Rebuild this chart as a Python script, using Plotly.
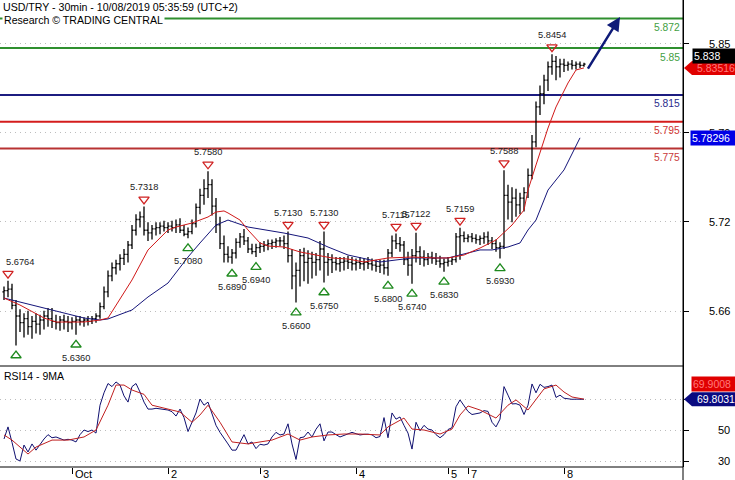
import plotly.graph_objects as go

# ---------------- data ----------------
# bar index (one bar ~ 1 hour slot of the chart), OHLC of USD/TRY
opens = [5.668,5.669,5.670,5.658,5.650,5.645,5.648,5.642,5.646,5.644,5.647,5.650,5.648,5.646,5.645,5.647,5.646,5.645,5.646,5.647,
         5.646,5.647,5.646,5.648,5.650,5.657,5.668,5.680,5.686,5.689,5.693,5.696,5.703,5.714,5.722,5.724,5.714,5.712,5.715,5.716,
         5.717,5.716,5.717,5.716,5.718,5.714,5.711,5.713,5.719,5.731,5.740,5.745,5.748,5.732,5.718,5.704,5.696,5.694,5.697,5.705,
         5.709,5.706,5.700,5.698,5.701,5.702,5.703,5.704,5.705,5.706,5.706,5.704,5.695,5.680,5.684,5.695,5.690,5.693,5.690,5.692,
         5.700,5.690,5.692,5.690,5.689,5.690,5.691,5.690,5.689,5.690,5.689,5.690,5.689,5.688,5.687,5.688,5.686,5.697,5.706,5.704,
         5.703,5.692,5.688,5.695,5.698,5.694,5.692,5.694,5.693,5.691,5.689,5.690,5.691,5.692,5.709,5.710,5.708,5.709,5.708,5.707,
         5.708,5.709,5.706,5.704,5.701,5.702,5.740,5.735,5.738,5.733,5.738,5.742,5.755,5.780,5.806,5.816,5.826,5.836,5.840,5.836,
         5.838,5.837,5.838,5.837,5.838,5.837]
highs = [5.672,5.6764,5.674,5.662,5.655,5.652,5.654,5.650,5.652,5.651,5.654,5.656,5.656,5.651,5.650,5.651,5.650,5.649,5.650,5.650,
         5.649,5.650,5.650,5.652,5.660,5.672,5.684,5.690,5.692,5.696,5.700,5.706,5.718,5.726,5.728,5.7318,5.720,5.718,5.720,5.720,
         5.721,5.720,5.721,5.722,5.723,5.718,5.716,5.722,5.734,5.745,5.752,5.7580,5.752,5.738,5.724,5.710,5.702,5.700,5.708,5.712,
         5.715,5.709,5.704,5.704,5.705,5.706,5.707,5.707,5.708,5.709,5.710,5.7130,5.700,5.690,5.700,5.701,5.699,5.698,5.697,5.706,
         5.7130,5.697,5.696,5.694,5.694,5.694,5.695,5.694,5.693,5.694,5.693,5.694,5.693,5.692,5.692,5.692,5.700,5.710,5.7115,5.709,
         5.706,5.698,5.700,5.7122,5.702,5.699,5.697,5.698,5.697,5.695,5.693,5.694,5.694,5.712,5.7159,5.713,5.711,5.712,5.711,5.710,
         5.7125,5.713,5.709,5.707,5.705,5.7588,5.748,5.746,5.745,5.742,5.746,5.760,5.785,5.810,5.822,5.830,5.840,5.8454,5.844,5.842,
         5.842,5.840,5.841,5.840,5.840,5.839]
lows = [5.662,5.664,5.655,5.628,5.638,5.634,5.636,5.633,5.637,5.636,5.640,5.642,5.641,5.640,5.639,5.640,5.638,5.640,5.6360,5.643,
        5.642,5.643,5.644,5.645,5.648,5.655,5.664,5.676,5.681,5.684,5.688,5.690,5.700,5.710,5.716,5.710,5.706,5.707,5.710,5.711,
        5.713,5.712,5.713,5.712,5.712,5.7095,5.7080,5.711,5.716,5.726,5.733,5.738,5.725,5.712,5.700,5.690,5.690,5.6890,5.693,5.701,
        5.703,5.697,5.696,5.6940,5.697,5.698,5.699,5.700,5.701,5.702,5.700,5.690,5.670,5.6600,5.672,5.676,5.674,5.678,5.680,5.684,
        5.6750,5.680,5.682,5.684,5.683,5.684,5.685,5.684,5.684,5.685,5.684,5.685,5.684,5.683,5.682,5.681,5.6800,5.694,5.700,5.698,
        5.688,5.680,5.6740,5.690,5.688,5.687,5.688,5.689,5.688,5.686,5.6830,5.687,5.688,5.690,5.692,5.705,5.705,5.705,5.704,5.703,
        5.704,5.703,5.700,5.698,5.6930,5.700,5.722,5.720,5.724,5.726,5.728,5.738,5.752,5.776,5.800,5.808,5.818,5.830,5.826,5.828,
        5.832,5.833,5.834,5.834,5.835,5.836]
closes = [5.669,5.670,5.658,5.650,5.645,5.648,5.642,5.646,5.644,5.647,5.650,5.648,5.646,5.645,5.647,5.646,5.645,5.646,5.647,5.646,
          5.647,5.646,5.648,5.650,5.657,5.668,5.680,5.686,5.689,5.693,5.696,5.703,5.714,5.722,5.724,5.714,5.712,5.715,5.716,5.717,
          5.716,5.717,5.716,5.718,5.714,5.711,5.713,5.719,5.731,5.740,5.745,5.748,5.732,5.718,5.704,5.696,5.694,5.697,5.705,5.709,
          5.706,5.700,5.698,5.701,5.702,5.703,5.704,5.705,5.706,5.706,5.704,5.695,5.680,5.684,5.695,5.690,5.693,5.690,5.692,5.700,
          5.690,5.692,5.690,5.689,5.690,5.691,5.690,5.689,5.690,5.689,5.690,5.689,5.688,5.687,5.688,5.686,5.697,5.706,5.704,5.703,
          5.692,5.688,5.695,5.698,5.694,5.692,5.694,5.693,5.691,5.689,5.690,5.691,5.692,5.709,5.710,5.708,5.709,5.708,5.707,5.708,
          5.709,5.706,5.704,5.701,5.702,5.740,5.735,5.738,5.733,5.738,5.742,5.755,5.780,5.806,5.816,5.826,5.836,5.840,5.836,5.838,
          5.837,5.838,5.837,5.838,5.837,5.838]
bars = list(range(len(closes)))

# moving averages (fast = red, slow = navy), sampled at bar indices
ma_fast_bar = [0,4,10,13,20,24,26,28,30,32,36,41,43,47,51,53,55,56,59,61,64,66,70,74,78,82,86,90,96,102,108,111,115,119,123,127,130,131,133,135,136,138,141,143,145]
ma_fast = [5.6634,5.6582,5.6485,5.6455,5.6455,5.6470,5.6485,5.6582,5.6679,5.6769,5.6993,5.7142,5.7164,5.7194,5.7239,5.7276,5.7284,5.7269,5.7216,5.7142,
           5.7045,5.7022,5.7015,5.6978,5.6955,5.6933,5.6925,5.6903,5.6933,5.6940,5.6933,5.6933,5.6955,5.7007,5.7067,5.7179,5.7291,5.7440,5.7627,5.7813,
           5.7903,5.8060,5.8239,5.8336,5.83516]
ma_slow_bar = [0,12,20,24,26,32,36,41,46,49,53,56,61,70,76,81,86,94,102,111,119,122,126,129,131,133,136,140,142,144]
ma_slow = [5.6634,5.6545,5.6485,5.6470,5.6478,5.6545,5.6642,5.6746,5.6940,5.7045,5.7179,5.7216,5.7164,5.7119,5.7082,5.7015,5.6955,5.6903,5.6933,5.6933,
           5.6993,5.6993,5.7015,5.7045,5.7142,5.7216,5.7440,5.7590,5.7716,5.78296]

# RSI(14) per bar and its 9-period MA
rsi = [44.2,52,42,31.3,30,40.3,35.8,41,37,41,44.2,47,45,45.5,44.5,43.5,44,43.5,42.3,47,
       50,49,50,48,66,74,80,78,81,79,72,68,78,80,74.5,68,63.5,63.5,64,63.5,
       63,62.9,61.8,59,63.5,58,49,55,61,70,66,68,59.7,53,48.5,45,41,37,37,42,
       47,41,42.3,38,40.8,40.3,41,45.5,48.5,46.8,47.4,54,41,31,45,45.5,48.7,45.5,50.5,54,
       43,48.7,48.7,47,45.5,46.5,47.6,48.5,47.6,46.8,47.2,47.3,46.9,45,45.8,58,45,61,57,58.4,
       53,48,37.7,55,49.5,53,50.6,50,47,45,47,50.3,51.5,65,69.4,66,62,60,60.3,61,
       62.5,62,55,52,57,78,72.5,66.8,67,66,60,66,79.7,74,79.5,77.5,78,79,71,72.5,
       70.5,70,69.8,69.9,69.8,69.8031]
rsi_ma_bar = [0,2,6,8,12,16,20,23,26,28,30,32,35,37,41,44,47,49,51,54,57,61,64,67,71,74,77,81,85,89,94,96,100,102,105,109,112,114,116,119,121,123,126,128,131,133,135,138,140,142,145]
rsi_ma = [46.8,43.5,34.5,39,43.5,43.5,45.5,50,66,79,79,75.8,73,66,63.5,61.6,55,59.7,66,55,
          42.3,41,42.3,43.5,47.4,43.5,45.5,46.8,47.4,47.4,46.8,52,57.7,50.6,50,47.4,50.6,59.7,65.5,62.9,
          60.3,57.7,66,69.4,62.9,70,76.5,79,74.5,71.3,69.9008]

# swing highs / lows marked on the chart
swing_high_bar = [1,35,51,71,80,98,103,114,125,137]
swing_high = [5.6764,5.7318,5.7580,5.7130,5.7130,5.7115,5.7122,5.7159,5.7588,5.8454]
swing_low_bar = [3,18,46,57,63,73,80,96,102,110,124]
swing_low = [5.628,5.6360,5.7080,5.6890,5.6940,5.6600,5.6750,5.6800,5.6740,5.6830,5.6930]
swing_low_shown = [False,True,True,True,True,True,True,True,True,True,True]

# horizontal key levels
levels = [5.872, 5.85, 5.815, 5.795, 5.775]
level_colors = ["#2f8f2f", "#2f8f2f", "#1c1c80", "#d41c1c", "#b83232"]
level_text_colors = ["#43a043", "#43a043", "#2b2b8c", "#d03434", "#c83a3a"]

# forecast arrow target (bar, price)
arrow_target = (154, 5.8731)

# axes
price_tick_vals = [5.853, 5.7866, 5.7202, 5.6537]
price_tick_text = ["5.85", "5.79", "5.72", "5.66"]
rsi_tick_vals = [70, 50, 30]
rsi_tick_text = ["", "50", "30"]
day_bar = [17, 41, 64, 88, 111, 116, 140]
day_text = ["Oct", "2", "3", "4", "5", "7", "8"]

# ---------------- layout constants ----------------
FONT = "Liberation Sans, Arial, sans-serif"
W, H = 735, 480
ML, MR, MT, MB = 0, 52, 0, 13
plot_w = W - ML - MR
plot_h = H - MT - MB               # 467
split_px = 366
d = (plot_h - split_px) / plot_h   # RSI domain top
y_range = [5.61269, 5.88582]
rsi_range = [26.13, 91.29]
x_range = [-1, 169.75]
ppu = split_px / (y_range[1] - y_range[0])  # pixels per price unit


def bar_px(b):
    return (b - x_range[0]) / (x_range[1] - x_range[0]) * plot_w


fig = go.Figure()

fig.add_trace(go.Ohlc(
    x=bars, open=opens, high=highs, low=lows, close=closes,
    increasing=dict(line=dict(color="black", width=1.3)),
    decreasing=dict(line=dict(color="black", width=1.3)),
    tickwidth=0.4, xaxis="x", yaxis="y", hoverinfo="skip"))

fig.add_trace(go.Scatter(x=ma_slow_bar, y=ma_slow, mode="lines",
                         line=dict(color="#15157a", width=1), xaxis="x", yaxis="y", hoverinfo="skip"))
fig.add_trace(go.Scatter(x=ma_fast_bar, y=ma_fast, mode="lines",
                         line=dict(color="#d01818", width=1), xaxis="x", yaxis="y", hoverinfo="skip"))

fig.add_trace(go.Scatter(x=swing_high_bar, y=[v + 7 / ppu for v in swing_high], mode="markers",
                         marker=dict(symbol="triangle-down-open", size=9, color="#d02222", line=dict(width=1.3)),
                         xaxis="x", yaxis="y", hoverinfo="skip"))
fig.add_trace(go.Scatter(x=swing_low_bar, y=[v - 10 / ppu for v in swing_low], mode="markers",
                         marker=dict(symbol="triangle-up-open", size=9, color="#1e8a1e", line=dict(width=1.3)),
                         xaxis="x", yaxis="y", hoverinfo="skip"))

fig.add_trace(go.Scatter(x=bars, y=rsi, mode="lines", line=dict(color="#101070", width=1),
                         xaxis="x", yaxis="y2", hoverinfo="skip"))
fig.add_trace(go.Scatter(x=rsi_ma_bar, y=rsi_ma, mode="lines", line=dict(color="#c02020", width=1),
                         xaxis="x", yaxis="y2", hoverinfo="skip"))

shapes = []
for lv, c in zip(levels, level_colors):
    shapes.append(dict(type="line", xref="paper", yref="y", x0=0, x1=1, y0=lv, y1=lv,
                       line=dict(color=c, width=2), layer="below"))
# panel borders
shapes.append(dict(type="line", xref="paper", yref="paper", x0=0, x1=1, y0=d, y1=d, line=dict(color="black", width=1)))
shapes.append(dict(type="line", xref="paper", yref="paper", x0=0, x1=1, y0=0, y1=0, line=dict(color="black", width=1)))
shapes.append(dict(type="line", xref="paper", yref="paper", x0=1, x1=1, y0=-MB / plot_h, y1=1, line=dict(color="black", width=1)))


def pointer_box(yref, value, color):
    return dict(type="path", xref="paper", yref=yref, xsizemode="pixel", ysizemode="pixel",
                xanchor=1, yanchor=value, path="M 1 0 L 9 7 L 53 7 L 53 -7 L 9 -7 Z",
                fillcolor=color, line=dict(width=0), layer="above")


shapes.append(pointer_box("y", ma_fast[-1], "#e00000"))
shapes.append(pointer_box("y2", rsi[-1], "#0a0a80"))

ann = []
# header
ann.append(dict(text="USD/TRY - 30min - 10/08/2019 05:35:59 (UTC+2)", xref="paper", yref="paper", x=0, y=1,
                xanchor="left", yanchor="middle", xshift=2, yshift=-7, showarrow=False,
                font=dict(family=FONT, size=10.6, color="black"), bgcolor="white", borderpad=0))
ann.append(dict(text="Research © TRADING CENTRAL", xref="paper", yref="paper", x=0, y=1,
                xanchor="left", yanchor="middle", xshift=2, yshift=-20, showarrow=False,
                font=dict(family=FONT, size=10.6, color="black"), bgcolor="white", borderpad=1))
ann.append(dict(text="RSI14 - 9MA", xref="paper", yref="paper", x=0, y=d, xanchor="left", yanchor="middle",
                xshift=2, yshift=-10, showarrow=False, font=dict(family=FONT, size=10.5, color="black")))

# level labels
for lv, c in zip(levels, level_text_colors):
    ann.append(dict(text=f"{lv:g}", xref="paper", yref="y", x=1, y=lv, xanchor="right", yanchor="middle",
                    xshift=-1, yshift=-9, showarrow=False, font=dict(family=FONT, size=10.3, color=c)))


def swing_label(b, v, shift):
    px = bar_px(b)
    a = dict(text=f"{v:.4f}", x=b, y=v, xref="x", yref="y", yshift=shift, showarrow=False,
             font=dict(family=FONT, size=9.3, color="#222222"))
    if px < 18:  # keep the label inside the chart like the original does
        a.update(xanchor="left", xshift=4 - px)
    return a


for b, v in zip(swing_high_bar, swing_high):
    ann.append(swing_label(b, v, 19))
for b, v, s in zip(swing_low_bar, swing_low, swing_low_shown):
    if s:
        ann.append(swing_label(b, v, -23))

# arrow
ann.append(dict(x=arrow_target[0], y=arrow_target[1], xref="x", yref="y", ax=-33, ay=53,
                showarrow=True, arrowhead=2, arrowsize=1.1, arrowwidth=2.5, arrowcolor="#0e1a78", text=""))

# tick labels (right side)
for v, t in zip(price_tick_vals, price_tick_text):
    ann.append(dict(text=t, xref="paper", yref="y", x=1, y=v, xanchor="right", yanchor="middle", xshift=49,
                    showarrow=False, font=dict(family=FONT, size=11, color="black")))
for v, t in zip(rsi_tick_vals, rsi_tick_text):
    if t:
        ann.append(dict(text=t, xref="paper", yref="y2", x=1, y=v, xanchor="right", yanchor="middle", xshift=49,
                        showarrow=False, font=dict(family=FONT, size=11, color="black")))

# day labels
for b, t in zip(day_bar, day_text):
    ann.append(dict(text=t, xref="x", yref="paper", x=b, y=0, xanchor="left", yanchor="middle",
                    xshift=1, yshift=-7, showarrow=False, font=dict(family=FONT, size=11, color="black")))

# value boxes
ann.append(dict(text=f"{closes[-1]:.3f}", xref="paper", yref="y", x=1, y=closes[-1], xanchor="left",
                yanchor="middle", xshift=9, yshift=8, showarrow=False, bgcolor="black", borderpad=1,
                width=42, align="left", font=dict(family=FONT, size=10.5, color="white")))
ann.append(dict(text=f"{ma_fast[-1]:.5f}", xref="paper", yref="y", x=1, y=ma_fast[-1], xanchor="left",
                yanchor="middle", xshift=12, showarrow=False,
                font=dict(family=FONT, size=10.5, color="#ff7a7a")))
ann.append(dict(text=f"{ma_slow[-1]:.5f}", xref="paper", yref="y", x=1, y=ma_slow[-1], xanchor="left",
                yanchor="middle", xshift=7, showarrow=False, bgcolor="#0000e6", borderpad=1,
                width=43, align="left", font=dict(family=FONT, size=10.5, color="white")))
ann.append(dict(text=f"{rsi_ma[-1]:.4f}", xref="paper", yref="y2", x=1, y=rsi_ma[-1], xanchor="left",
                yanchor="middle", xshift=8, yshift=15, showarrow=False, bgcolor="#e00000", borderpad=1,
                width=43, align="left", font=dict(family=FONT, size=10.5, color="#ff7a7a")))
ann.append(dict(text=f"{rsi[-1]:.4f}", xref="paper", yref="y2", x=1, y=rsi[-1], xanchor="left",
                yanchor="middle", xshift=12, showarrow=False,
                font=dict(family=FONT, size=10.5, color="white")))

grid = dict(showgrid=True, gridcolor="#bdbdbd", griddash="1px,4px", gridwidth=1)

fig.update_layout(
    width=W, height=H, margin=dict(l=ML, r=MR, t=MT, b=MB),
    paper_bgcolor="white", plot_bgcolor="white", showlegend=False, hovermode=False,
    font=dict(family=FONT, size=11, color="black"),
    xaxis=dict(domain=[0, 1], range=x_range, anchor="y2", showgrid=False, zeroline=False,
               ticks="outside", ticklen=6, tickcolor="black", tickvals=day_bar, showticklabels=False,
               showline=False, rangeslider=dict(visible=False), fixedrange=True),
    yaxis=dict(domain=[d, 1], range=y_range, side="right", anchor="x", showline=True, linecolor="black",
               linewidth=1, ticks="outside", ticklen=5, tickcolor="black", tickvals=price_tick_vals,
               showticklabels=False, zeroline=False, fixedrange=True, **grid),
    yaxis2=dict(domain=[0, d], range=rsi_range, side="right", anchor="x", showline=True, linecolor="black",
                linewidth=1, ticks="outside", ticklen=5, tickcolor="black", tickvals=rsi_tick_vals,
                showticklabels=False, zeroline=False, fixedrange=True, **grid),
    shapes=shapes, annotations=ann,
)

fig.write_html("out.html", config={"displayModeBar": False},
               post_script="document.body.style.margin='0';document.body.style.overflow='hidden';")
